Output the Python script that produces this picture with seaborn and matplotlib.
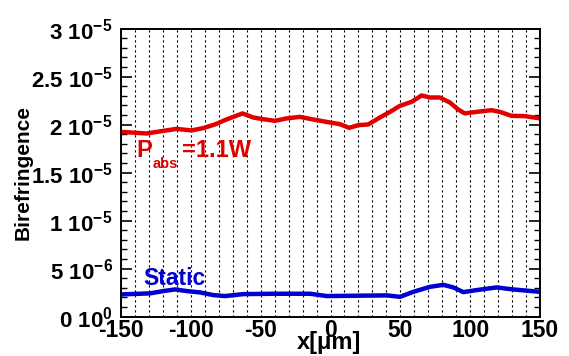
import matplotlib
matplotlib.use("Agg")
import matplotlib.pyplot as plt
import seaborn as sns
import pandas as pd
import numpy as np
from matplotlib.ticker import MultipleLocator, FixedLocator, FixedFormatter

# ---- data ----
x_heated = [-150, -131.6, -119.8, -110.3, -99.5, -91.2, -82.8, -74.5, -69.7, -63, -55.4,
            -48.2, -39.8, -31.5, -22, -12.4, -2.9, 6.7, 13.4, 19.9, 27, 35.4, 42.6, 49.7,
            58.1, 65.2, 71.2, 78.3, 85.5, 91.4, 96.2, 104.5, 115.3, 121.3, 129.6, 139.2, 150]
y_heated = [1.925, 1.908, 1.935, 1.956, 1.940, 1.964, 2.002, 2.054, 2.081, 2.117, 2.075,
            2.057, 2.040, 2.065, 2.081, 2.054, 2.029, 2.005, 1.967, 1.995, 2.002, 2.075,
            2.133, 2.196, 2.238, 2.304, 2.283, 2.283, 2.231, 2.158, 2.117, 2.133, 2.151,
            2.133, 2.092, 2.089, 2.065]  # units of 1e-5

x_static = [-150, -129.2, -119.7, -111.3, -103, -93.5, -83.9, -75.5, -62.5, -41, -14.6,
            -2.7, 16.4, 40.3, 49.8, 59.3, 71.2, 80.8, 87.9, 95.1, 104.6, 118.9, 130.8, 150]
y_static = [2.31, 2.42, 2.66, 2.83, 2.66, 2.52, 2.24, 2.14, 2.34, 2.38, 2.38,
            2.14, 2.17, 2.21, 2.06, 2.58, 3.10, 3.31, 3.04, 2.55, 2.76, 3.04, 2.83, 2.58]  # units of 1e-6

y_tick_values = [0, 5e-6, 1e-5, 1.5e-5, 2e-5, 2.5e-5, 3e-5]
y_tick_labels = [r"$\mathbf{0\ 10^{0}}$", r"$\mathbf{5\ 10^{-6}}$", r"$\mathbf{1\ 10^{-5}}$",
                 r"$\mathbf{1.5\ 10^{-5}}$", r"$\mathbf{2\ 10^{-5}}$", r"$\mathbf{2.5\ 10^{-5}}$",
                 r"$\mathbf{3\ 10^{-5}}$"]
x_tick_values = [-150, -100, -50, 0, 50, 100, 150]

red = "#e00000"
blue = "#0000d0"

df_h = pd.DataFrame({"x": x_heated, "B": np.array(y_heated) * 1e-5})
df_s = pd.DataFrame({"x": x_static, "B": np.array(y_static) * 1e-6})

sns.set_style("ticks")
plt.rcParams["font.family"] = ["Liberation Sans", "DejaVu Sans"]
plt.rcParams["font.weight"] = "bold"
plt.rcParams["mathtext.fontset"] = "custom"
plt.rcParams["mathtext.rm"] = "Liberation Sans"
plt.rcParams["mathtext.bf"] = "Liberation Sans:bold"
plt.rcParams["mathtext.it"] = "Liberation Sans:italic"
plt.rcParams["axes.unicode_minus"] = False
for k in ["text.color", "axes.labelcolor", "xtick.color", "ytick.color", "axes.edgecolor"]:
    plt.rcParams[k] = "black"

fig = plt.figure(figsize=(5.69, 3.56), dpi=100)
ax = fig.add_axes([0.2127, 0.1107, 0.949 - 0.2127, 0.9194 - 0.1107])

sns.lineplot(data=df_h, x="x", y="B", ax=ax, color=red, linewidth=3.2)
sns.lineplot(data=df_s, x="x", y="B", ax=ax, color=blue, linewidth=3.2)

ax.set_xlim(-150, 150)
ax.set_ylim(0, 3e-5)

ax.xaxis.set_major_locator(FixedLocator(x_tick_values))
ax.xaxis.set_minor_locator(MultipleLocator(10))
ax.set_xticklabels([str(v) for v in x_tick_values], fontsize=16.5, fontweight="bold")
ax.tick_params(axis="x", which="both", length=0, pad=2)

ax.yaxis.set_major_locator(FixedLocator(y_tick_values))
ax.yaxis.set_major_formatter(FixedFormatter(y_tick_labels))
ax.yaxis.set_minor_locator(MultipleLocator(1e-6))
ax.tick_params(axis="y", which="major", direction="in", length=8, width=1.2,
               left=True, right=True, labelsize=16, pad=6)
ax.tick_params(axis="y", which="minor", direction="in", length=4, width=1.0,
               left=True, right=True)

ax.grid(axis="x", which="both", linestyle=(0, (2, 2.5)), color="black", linewidth=0.8)
ax.set_axisbelow(True)

for s in ax.spines.values():
    s.set_linewidth(1.4)
    s.set_color("black")

ax.set_xlabel("x[μm]", fontsize=17, fontweight="bold")
ax.xaxis.set_label_coords(0.496, -0.05)
ax.set_ylabel("Birefringence", fontsize=15, fontweight="bold")
ax.yaxis.set_label_coords(-0.212, 0.5)

# labels
ax.text(-138.8, 1.664e-5, "P", color=red, fontsize=17, fontweight="bold",
        ha="left", va="baseline")
ax.text(-127.1, 1.546e-5, "abs", color=red, fontsize=10.5, fontweight="bold",
        ha="left", va="baseline")
ax.text(-106.5, 1.664e-5, "=1.1W", color=red, fontsize=17, fontweight="bold",
        ha="left", va="baseline")
ax.text(-134.0, 3.29e-6, "Static", color=blue, fontsize=16.5, fontweight="bold",
        ha="left", va="baseline")

fig.savefig("out.png", dpi=100)
